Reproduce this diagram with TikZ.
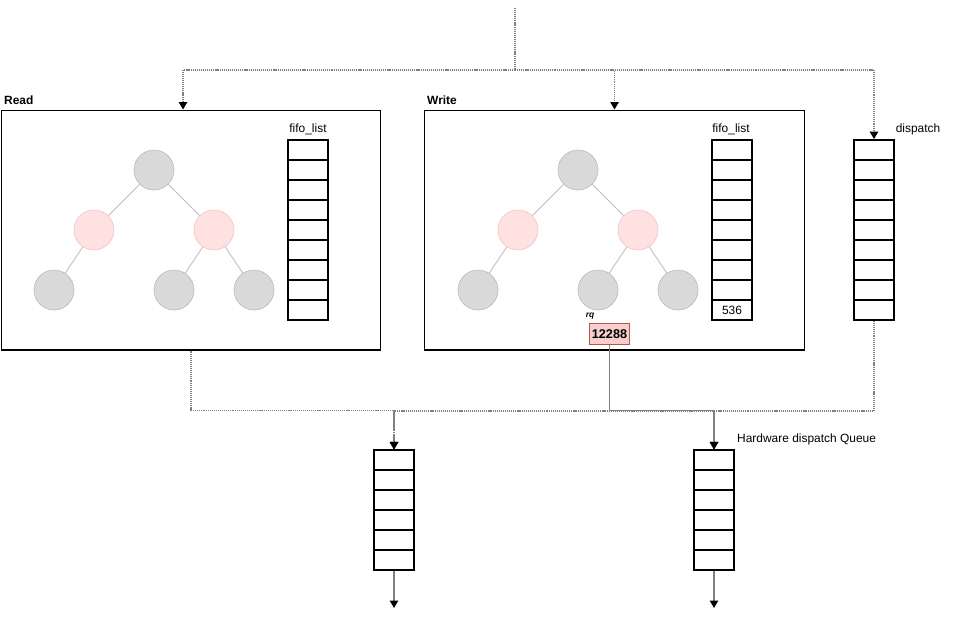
\documentclass[tikz,border=0pt]{standalone}
\usepackage{fontspec}
\setmainfont{Liberation Sans}
\usepackage{tikz}
\usetikzlibrary{arrows.meta, positioning, calc}
\definecolor{nodegray}{RGB}{217,217,217}
\definecolor{nodegrayline}{RGB}{190,190,190}
\definecolor{nodered}{RGB}{255,225,225}
\definecolor{noderedline}{RGB}{245,200,200}
\definecolor{rqfill}{RGB}{248,206,204}
\definecolor{rqline}{RGB}{184,84,80}
\definecolor{wire}{RGB}{128,128,128}

\begin{document}
\begin{tikzpicture}[x=0.02cm, y=-0.02cm,
    font=\fontsize{6.8}{8}\selectfont,
    % boxes of the scheduler
    sched/.style={draw, line width=0.6pt, minimum width=7.6cm, minimum height=4.8cm, inner sep=0pt},
    fifo/.style={draw, line width=1.1pt, minimum width=0.8cm, minimum height=0.4cm, inner sep=0pt},
    hwcell/.style={draw, line width=0.6pt, minimum width=0.8cm, minimum height=0.4cm, inner sep=0pt},
    grayc/.style={circle, draw=nodegrayline, fill=nodegray, line width=0.4pt, minimum size=0.8cm, inner sep=0pt},
    redc/.style={circle, draw=noderedline, fill=nodered, line width=0.4pt, minimum size=0.8cm, inner sep=0pt},
    tree/.style={draw=nodegrayline, line width=0.5pt},
    flow/.style={draw=wire, line width=0.65pt, dash pattern=on 0.6pt off 0.5pt, -{Triangle[black, width=0.17cm, length=0.15cm]}},
    solidflow/.style={draw=wire, line width=0.65pt, -{Triangle[black, width=0.17cm, length=0.15cm]}}]

    \useasboundingbox (0,0) rectangle (955,619);

    % Read / Write boxes
    \node[sched] (read) at (191,230) {};
    \node[sched] (write) at (614.5,230) {};
    \node[anchor=west, font=\fontsize{6.8}{8}\selectfont\bfseries] (readlbl) at (-2,100) {Read};
    \node[anchor=west, font=\fontsize{6.8}{8}\selectfont\bfseries] (writelbl) at (421,100) {Write};

    % Read tree
    \node[grayc] (r1) at (154,170) {};
    \node[redc]  (r2) at (94,230) {};
    \node[redc]  (r3) at (214,230) {};
    \node[grayc] (r4) at (54,290) {};
    \node[grayc] (r5) at (174,290) {};
    \node[grayc] (r6) at (254,290) {};
    \draw[tree] (r1) -- (r2);
    \draw[tree] (r1) -- (r3);
    \draw[tree] (r2) -- (r4);
    \draw[tree] (r3) -- (r5);
    \draw[tree] (r3) -- (r6);

    % Write tree
    \node[grayc] (w1) at (578,170) {};
    \node[redc]  (w2) at (518,230) {};
    \node[redc]  (w3) at (638,230) {};
    \node[grayc] (w4) at (478,290) {};
    \node[grayc] (w5) at (598,290) {};
    \node[grayc] (w6) at (678,290) {};
    \draw[tree] (w1) -- (w2);
    \draw[tree] (w1) -- (w3);
    \draw[tree] (w2) -- (w4);
    \draw[tree] (w3) -- (w5);
    \draw[tree] (w3) -- (w6);

    % fifo lists and dispatch list
    \foreach \i in {0,...,8} {
        \node[fifo] (rf\i) at (308,150+20*\i) {};
        \node[fifo] (df\i) at (874,150+20*\i) {};
    }
    \foreach \i in {0,...,7} {
        \node[fifo] (wf\i) at (732,150+20*\i) {};
    }
    \node[fifo] (wf8) at (732,310) {536};
    \node (rfifolbl) at (308,129) {fifo\_list};
    \node (wfifolbl) at (731,129) {fifo\_list};
    \node (displbl) at (918,129) {dispatch};

    % request
    \node[font=\fontsize{4.8}{6}\selectfont\bfseries\itshape] (rqlbl) at (590,316) {rq};
    \node[draw=rqline, fill=rqfill, line width=1pt, minimum width=0.8cm, minimum height=0.42cm, inner sep=0pt,
          font=\fontsize{7.2}{8}\selectfont\bfseries] (rq) at (609.5,334) {12288};

    % hardware dispatch queues
    \foreach \i in {0,...,5} {
        \node[hwcell] (lq\i) at (394,460+20*\i) {};
        \node[hwcell] (hq\i) at (714,460+20*\i) {};
    }
    \node[anchor=west] (hwlbl) at (731,439) {Hardware dispatch Queue};
    \coordinate (lout) at (394,608);
    \coordinate (hout) at (714,608);

    % incoming requests
    \coordinate (src) at (515,8);
    \draw[flow] (src) -- ++(0,62) -| ([xshift=-0.16cm]read.north);
    \draw[flow] (src) -- ++(0,62) -| (write.north);
    \draw[flow] (src) -- ++(0,62) -| (df0.north);

    % to the hardware queues
    \draw[solidflow] (rq.south) -- ++(0,65) -| (hq0.north);
    \draw[flow] (read.south) -- ++(0,60) -| (lq0.north);
    \draw[flow] (df8.south) -- ++(0,90) -| (lq0.north);
    \draw[flow] (df8.south) -- ++(0,90) -| (hq0.north);
    \draw[solidflow] (lq5.south) -- (lout);
    \draw[solidflow] (hq5.south) -- (hout);
\end{tikzpicture}
\end{document}
